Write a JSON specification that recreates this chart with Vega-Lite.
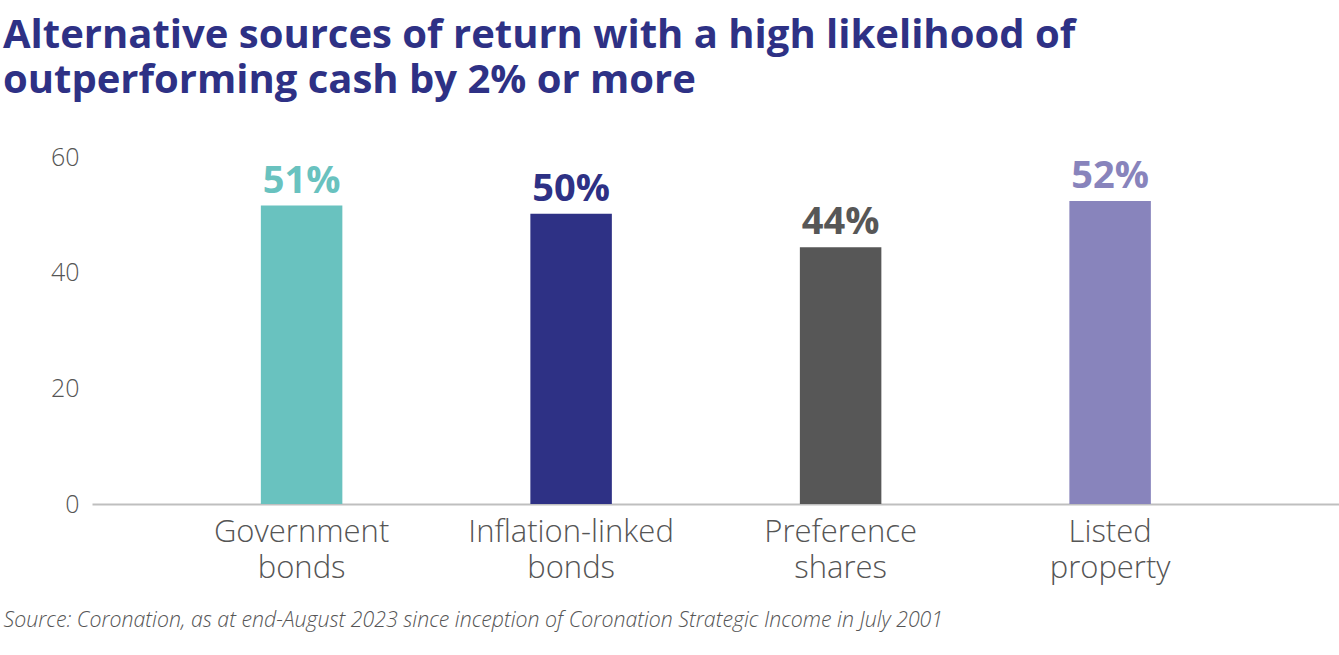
{
  "$schema": "https://vega.github.io/schema/vega-lite/v6.json",
  "width": 1247,
  "height": 347,
  "autosize": {"type": "none"},
  "padding": {"left": 92, "top": 157, "right": 0, "bottom": 151},
  "background": "white",
  "title": {
    "text": ["Alternative sources of return with a high likelihood of", "outperforming cash by 2% or more"],
    "anchor": "start",
    "frame": "group",
    "dx": -89,
    "offset": 44,
    "font": "Open Sans",
    "fontSize": 40,
    "fontWeight": "bold",
    "color": "#2e3185",
    "lineHeight": 45
  },
  "config": {
    "view": {"stroke": null},
    "font": "Open Sans"
  },
  "data": {
    "values": [
      {"category": "Government bonds", "value": 51.6, "label": "51%"},
      {"category": "Inflation-linked bonds", "value": 50.2, "label": "50%"},
      {"category": "Preference shares", "value": 44.4, "label": "44%"},
      {"category": "Listed property", "value": 52.4, "label": "52%"}
    ]
  },
  "encoding": {
    "x": {
      "field": "category",
      "type": "nominal",
      "sort": null,
      "scale": {"paddingInner": 0.6976, "paddingOuter": 0.6623, "align": 0.473},
      "axis": {
        "labelExpr": "split(datum.label, ' ')",
        "labelAngle": 0,
        "labelLimit": 0,
        "labelOverlap": false,
        "labelFont": "Open Sans",
        "labelFontSize": 31,
        "labelFontWeight": 300,
        "labelColor": "#555555",
        "labelLineHeight": 36,
        "labelPadding": 13,
        "labelBaseline": "top",
        "ticks": false,
        "domainColor": "#bfbfbf",
        "domainWidth": 2,
        "title": "Source: Coronation, as at end-August 2023 since inception of Coronation Strategic Income in July 2001",
        "titleFont": "Open Sans",
        "titleFontSize": 21.3,
        "titleFontStyle": "italic",
        "titleFontWeight": 300,
        "titleColor": "#555555",
        "titleAnchor": "start",
        "titleAlign": "left",
        "titleX": -89,
        "titleY": 122,
        "titleBaseline": "alphabetic"
      }
    },
    "color": {
      "field": "category",
      "type": "nominal",
      "scale": {
        "domain": ["Government bonds", "Inflation-linked bonds", "Preference shares", "Listed property"],
        "range": ["#69c2bf", "#2e3185", "#575757", "#8884bc"]
      },
      "legend": null
    }
  },
  "layer": [
    {
      "mark": {"type": "bar"},
      "encoding": {
        "y": {
          "field": "value",
          "type": "quantitative",
          "scale": {"domain": [0, 60], "nice": false},
          "axis": {
            "values": [0, 20, 40, 60],
            "domain": false,
            "ticks": false,
            "grid": false,
            "labelFont": "Open Sans",
            "labelFontSize": 25,
            "labelFontWeight": 300,
            "labelColor": "#555555",
            "labelPadding": 13,
            "title": null
          }
        }
      }
    },
    {
      "mark": {"type": "text", "baseline": "alphabetic", "dy": -13, "font": "Open Sans", "fontSize": 38, "fontWeight": "bold"},
      "encoding": {
        "y": {"field": "value", "type": "quantitative"},
        "text": {"field": "label"}
      }
    }
  ]
}
